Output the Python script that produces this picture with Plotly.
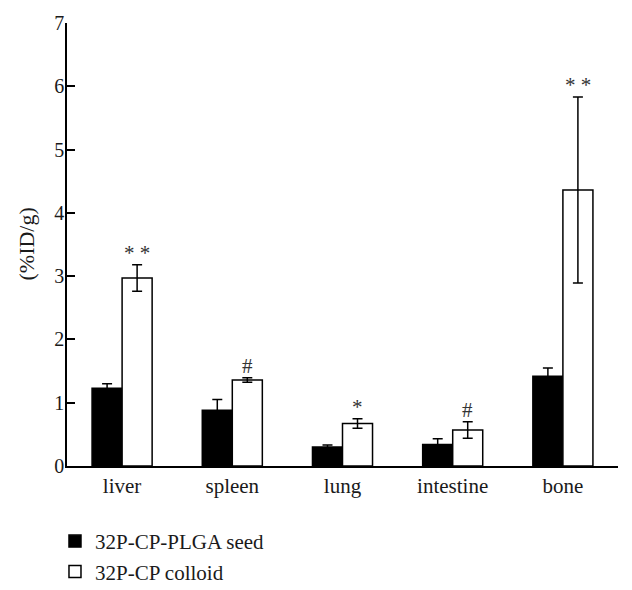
import plotly.graph_objects as go

categories = ["liver", "spleen", "lung", "intestine", "bone"]
seed_values = [1.23, 0.88, 0.30, 0.34, 1.42]
seed_err = [0.07, 0.17, 0.03, 0.09, 0.13]
colloid_values = [2.97, 1.36, 0.67, 0.57, 4.36]
colloid_err = [0.21, 0.035, 0.075, 0.13, 1.47]
marks = ["* *", "#", "*", "#", "* *"]
series_names = ["32P-CP-PLGA seed", "32P-CP colloid"]
y_ticks = [0, 1, 2, 3, 4, 5, 6, 7]
y_title = "(%ID/g)"

FONT = "Liberation Serif"
TXT = "#1a1a1a"

fig = go.Figure()
fig.add_trace(go.Bar(
    x=categories, y=seed_values, name=series_names[0],
    marker=dict(color="black", line=dict(color="black", width=1.5)),
    error_y=dict(type="data", array=seed_err, color="black", thickness=1.5, width=5),
))
fig.add_trace(go.Bar(
    x=categories, y=colloid_values, name=series_names[1],
    marker=dict(color="white", line=dict(color="black", width=1.5)),
    error_y=dict(type="data", array=colloid_err, color="black", thickness=1.5, width=5),
))

for c, v, e, m in zip(categories, colloid_values, colloid_err, marks):
    fig.add_annotation(
        x=c, y=v + e, xref="x", yref="y", text=m, showarrow=False,
        xshift=15, yshift=-2, yanchor="bottom",
        font=dict(family=FONT, size=21, color="#333"),
    )

# y-axis title as a rotated annotation
fig.add_annotation(
    x=-0.0744, y=0.5, xref="paper", yref="paper", text=y_title, showarrow=False,
    textangle=-90, xanchor="center", yanchor="middle",
    font=dict(family=FONT, size=22, color=TXT),
)

fig.update_layout(
    width=624, height=582,
    margin=dict(l=59, r=14, t=15, b=124, autoexpand=False),
    plot_bgcolor="white", paper_bgcolor="white",
    barmode="group", bargap=0.455, bargroupgap=0,
    font=dict(family=FONT, size=20, color=TXT),
    showlegend=True,
    legend=dict(
        xref="container", yref="container",
        x=0.0753, y=0.1186, xanchor="left", yanchor="top",
        font=dict(family=FONT, size=21, color=TXT),
        bgcolor="rgba(0,0,0,0)", tracegroupgap=0,
    ),
    xaxis=dict(
        range=[-0.5, 4.5], showline=True, linecolor="black", linewidth=1.5,
        ticks="", showgrid=False, zeroline=False, automargin=False,
        tickfont=dict(family=FONT, size=21, color=TXT),
    ),
    yaxis=dict(
        range=[0, 7], tickvals=y_ticks, showline=True, linecolor="black", linewidth=1.5,
        ticks="inside", ticklen=8, tickwidth=1.5, tickcolor="black",
        ticklabelstandoff=-3,
        showgrid=False, zeroline=False, automargin=False,
        tickfont=dict(family=FONT, size=20, color=TXT),
    ),
)

fig.write_html("out.html")
